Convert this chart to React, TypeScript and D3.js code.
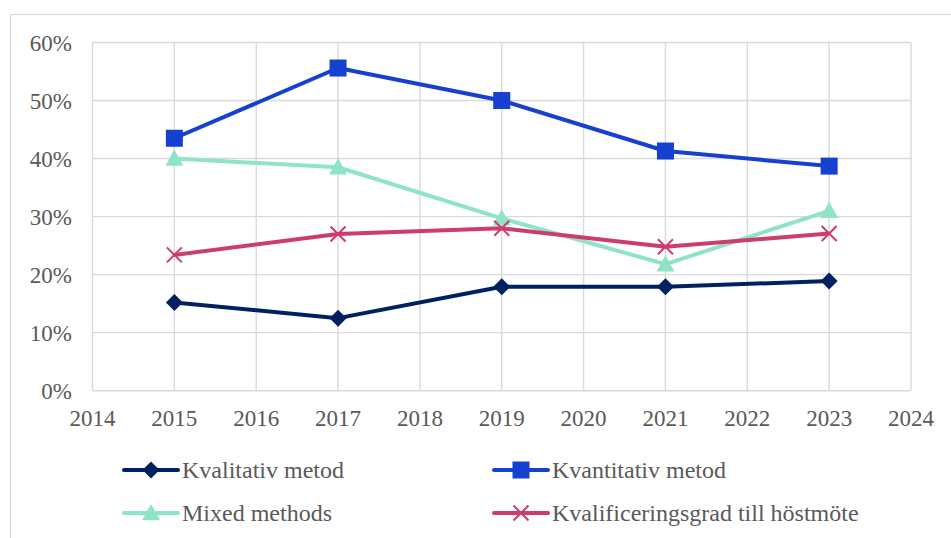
import React from "react";
import * as d3 from "d3";

const years = [2015, 2017, 2019, 2021, 2023];
const kvalitativ = [0.152, 0.125, 0.179, 0.179, 0.189];
const kvantitativ = [0.435, 0.556, 0.5, 0.413, 0.387];
const mixed = [0.4, 0.385, 0.297, 0.218, 0.31];
const kvalgrad = [0.234, 0.27, 0.28, 0.248, 0.271];
const xTicks = [2014, 2015, 2016, 2017, 2018, 2019, 2020, 2021, 2022, 2023, 2024];
const yTicks = [0, 0.1, 0.2, 0.3, 0.4, 0.5, 0.6];

const seriesNames = ["Kvalitativ metod", "Kvantitativ metod", "Mixed methods", "Kvalificeringsgrad till höstmöte"];

const W = 951, H = 538;
const FONT = "'Liberation Serif', 'Times New Roman', serif";

function Marker({ type, x, y, color }: { type: string; x: number; y: number; color: string }) {
  if (type === "diamond") {
    const s = 8.5;
    return <path d={`M${x},${y - s}L${x + s},${y}L${x},${y + s}L${x - s},${y}Z`} fill={color} />;
  }
  if (type === "square") {
    const s = 8.5;
    return <rect x={x - s} y={y - s} width={2 * s} height={2 * s} fill={color} />;
  }
  if (type === "triangle") {
    const s = 9;
    return <path d={`M${x},${y - s}L${x + s},${y + s * 0.8}L${x - s},${y + s * 0.8}Z`} fill={color} />;
  }
  const s = 7.5;
  return (
    <path d={`M${x - s},${y - s}L${x + s},${y + s}M${x - s},${y + s}L${x + s},${y - s}`} stroke={color} strokeWidth={2} fill="none" />
  );
}

export default function App() {
  const x = d3.scaleLinear().domain([2014, 2024]).range([92.5, 911]);
  const y = d3.scaleLinear().domain([0, 0.6]).range([390.7, 42.5]);
  const line = d3.line<[number, number]>().x((d) => x(d[0])).y((d) => y(d[1]));

  const series = [
    { name: seriesNames[0], values: kvalitativ, color: "#002060", marker: "diamond" },
    { name: seriesNames[1], values: kvantitativ, color: "#1540D0", marker: "square" },
    { name: seriesNames[2], values: mixed, color: "#8EE3C8", marker: "triangle" },
    { name: seriesNames[3], values: kvalgrad, color: "#CC3D6B", marker: "x" },
  ];
  const drawOrder = [0, 2, 3, 1];
  const legendPos = [
    { lx: 124, ly: 470 },
    { lx: 494, ly: 470 },
    { lx: 124, ly: 513 },
    { lx: 494, ly: 513 },
  ];
  const textStyle = { fontFamily: FONT };

  return (
    <svg width={W} height={H} style={{ position: "absolute", left: 0, top: 0, fontFamily: FONT }}>
      <rect x={0} y={0} width={W} height={H} fill="#fff" />
      <rect x={10.5} y={14.5} width={960} height={560} fill="none" stroke="#d9d9d9" strokeWidth={1.2} />
      {yTicks.map((t) => (
        <line key={"y" + t} x1={x(2014)} x2={x(2024)} y1={y(t)} y2={y(t)} stroke="#d9d9d9" strokeWidth={1.4} />
      ))}
      {xTicks.map((t) => (
        <line key={"x" + t} x1={x(t)} x2={x(t)} y1={y(0)} y2={y(0.6)} stroke="#d9d9d9" strokeWidth={1.4} />
      ))}
      {yTicks.map((t) => (
        <text key={"yl" + t} style={textStyle} x={72} y={y(t)} dy="0.35em" textAnchor="end" fontSize={23} fill="#595959">
          {d3.format(".0%")(t)}
        </text>
      ))}
      {xTicks.map((t) => (
        <text key={"xl" + t} style={textStyle} x={x(t)} y={426} textAnchor="middle" fontSize={23} fill="#595959">
          {t}
        </text>
      ))}
      {drawOrder.map((i) => {
        const s = series[i];
        const pts = years.map((yr, k) => [yr, s.values[k]] as [number, number]);
        return (
          <g key={s.name}>
            <path d={line(pts) || ""} fill="none" stroke={s.color} strokeWidth={4} strokeLinejoin="round" />
            {pts.map((p, k) => (
              <Marker key={k} type={s.marker} x={x(p[0])} y={y(p[1])} color={s.color} />
            ))}
          </g>
        );
      })}
      {series.map((s, i) => {
        const { lx, ly } = legendPos[i];
        return (
          <g key={"lg" + i}>
            <line x1={lx} x2={lx + 54} y1={ly} y2={ly} stroke={s.color} strokeWidth={4} strokeLinecap="round" />
            <Marker type={s.marker} x={lx + 27} y={ly} color={s.color} />
            <text style={textStyle} x={lx + 58} y={ly} dy="0.35em" fontSize={24} fill="#595959">
              {s.name}
            </text>
          </g>
        );
      })}
    </svg>
  );
}
